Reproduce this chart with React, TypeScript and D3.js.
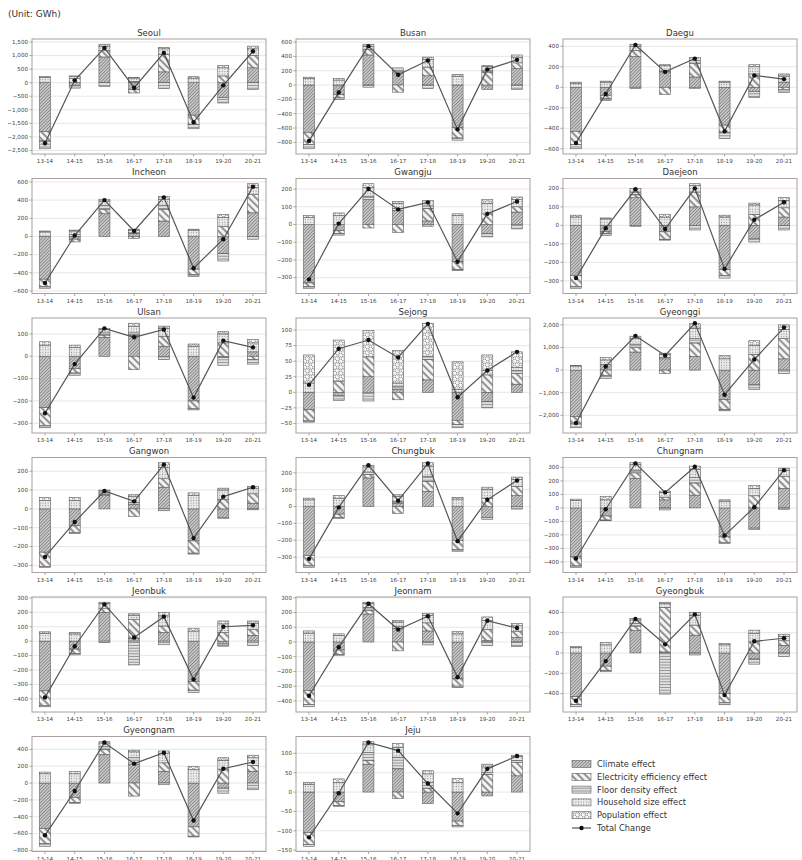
import * as d3 from 'd3';

const regions = [
  'Seoul', 'Busan', 'Daegu', 'Incheon', 'Gwangju', 'Daejeon', 'Ulsan', 'Sejong', 'Gyeonggi',
  'Gangwon', 'Chungbuk', 'Chungnam', 'Jeonbuk', 'Jeonnam', 'Gyeongbuk', 'Gyeongnam', 'Jeju',
];
const periods = ['13-14', '14-15', '15-16', '16-17', '17-18', '18-19', '19-20', '20-21'];
const effectLabels = [
  'Climate effect',
  'Electricity efficiency effect',
  'Floor density effect',
  'Household size effect',
  'Population effect',
];
const keys = ['climate', 'electricity', 'floor', 'household', 'population'];

// one row per region, one value per period (GWh)
const climate = [
  [-1800, -120, 950, -260, 400, -1200, -550, 550],
  [-660, -130, 420, 170, 130, -590, -60, 230],
  [-430, -80, 300, 150, 100, -370, -40, 50],
  [-470, -30, 250, 30, 170, -360, -190, 260],
  [-330, -35, 140, 80, 20, -210, -50, 70],
  [-270, -35, 150, -35, 100, -240, -70, 45],
  [-230, -55, 85, 95, 45, -200, -5, 20],
  [-28, -5, 25, 5, 20, -45, -15, 13],
  [-2050, 250, 800, 500, 600, -1300, -650, 500],
  [-230, -90, 70, 25, 115, -170, -45, 30],
  [-290, -45, 170, 20, 90, -200, -65, 65],
  [-360, -60, 220, 60, 95, -215, -150, 145],
  [-345, -55, 200, 20, 60, -280, -20, 40],
  [-330, -55, 190, 90, 75, -250, 10, 30],
  [-430, -130, 220, 10, 175, -400, -60, 75],
  [-540, -170, 340, 220, 140, -520, -60, 140],
  [-105, -25, 72, 60, -30, -75, -10, 42],
];
const electricity = [
  [-350, 150, 230, -120, 650, -350, 250, 450],
  [-170, -50, 80, -100, 120, -150, 180, 80],
  [-130, -30, 60, -70, 130, -70, 130, -20],
  [-80, -30, 50, -20, 130, -60, 110, 200],
  [-20, -15, -20, -45, 70, -45, 60, 30],
  [-60, -10, 15, -40, 80, -30, 60, 50],
  [-80, -20, 10, -60, 45, -35, 60, -15],
  [-17, 18, 32, -12, 33, -7, 28, 17],
  [-300, -250, 200, -150, 600, -450, 700, 900],
  [-75, -35, 5, -40, 45, -65, 50, 50],
  [-60, -20, 20, -40, 60, -55, 50, 55],
  [-70, -30, 40, 20, 90, -40, 90, 90],
  [-100, -30, 25, 130, 45, -60, 60, 40],
  [-95, -30, 25, -60, 55, -50, 75, 40],
  [-80, -45, 45, 440, 100, -90, 110, 45],
  [-180, -60, 60, -155, 100, -110, 160, 70],
  [-30, -10, 10, -17, 10, -12, 45, 35],
];
const floor = [
  [-290, -80, -136, 50, -220, -150, -200, -250],
  [-60, -20, -30, 30, -50, -30, 20, -60],
  [-40, -20, -10, 10, 30, -60, -60, -30],
  [-20, 20, 40, 10, 40, -20, -80, -30],
  [-10, -10, 20, 10, 15, -5, -20, -25],
  [-10, -10, 15, -5, -25, -15, -20, -25],
  [-10, -10, 10, 10, -15, -5, -35, -20],
  [-3, -8, -14, 5, 5, -5, -10, 5],
  [-200, -130, 150, 50, 200, -50, -200, -150],
  [-5, -5, 10, 10, -10, -5, -5, -5],
  [-10, -5, 15, 10, 30, -10, -10, -15],
  [-10, -5, 20, -15, 40, -10, -10, -10],
  [-10, -10, -10, -165, -25, -15, -15, -30],
  [-15, -5, 20, 15, -20, -10, -25, -30],
  [-20, -10, 25, -405, -20, -20, -50, -35],
  [-30, -10, 30, 80, -20, -10, -60, -80],
  [-5, -2, 20, 30, 15, -3, 5, 5],
];
const household = [
  [200, 80, 160, 120, 200, 170, 300, 250],
  [90, 70, 40, 40, 110, 120, 60, 80],
  [40, 50, 40, 50, 30, 50, 70, 60],
  [50, 40, 50, 30, 70, 70, 100, 80],
  [40, 50, 50, 30, 30, 50, 60, 40],
  [45, 35, 20, 45, 35, 45, 50, 40],
  [50, 40, 15, 30, 35, 45, 40, 40],
  [15, 0, 0, 5, 0, 5, 7, 5],
  [180, 200, 250, 150, 450, 500, 400, 400],
  [45, 45, 10, 30, 60, 70, 50, 30],
  [40, 50, 30, 30, 60, 45, 50, 40],
  [55, 60, 40, 35, 60, 50, 55, 45],
  [55, 50, 35, 30, 70, 70, 60, 45],
  [60, 45, 25, 30, 50, 55, 60, 40],
  [55, 80, 35, 35, 95, 80, 85, 45],
  [110, 110, 45, 70, 110, 160, 110, 90],
  [20, 25, 20, 25, 22, 25, 15, 10],
];
const population = [
  [30, 20, 80, 30, 50, 50, 80, 100],
  [20, 20, 30, 0, 30, 30, 10, 30],
  [10, 10, 20, 10, -10, 10, 20, 20],
  [10, 10, 20, 10, 30, 10, 30, 40],
  [10, 15, 20, 10, -10, 10, 20, 15],
  [10, 5, -5, 15, 10, 10, 10, 15],
  [15, 10, 5, 13, 10, 10, 10, 15],
  [45, 66, 42, 52, 53, 44, 25, 25],
  [20, 100, 100, 50, 200, 150, 200, 200],
  [15, 15, 5, 10, 25, 15, 10, 10],
  [10, 15, 10, 10, 20, 10, 15, 15],
  [10, 25, 15, 10, 25, 10, 20, 15],
  [10, 10, 10, 10, 25, 20, 20, 15],
  [15, 10, 10, 10, 15, 15, 25, 15],
  [10, 25, 15, 15, 30, 15, 30, 20],
  [20, 25, 15, 20, 30, 35, 30, 30],
  [5, 9, 8, 10, 8, 10, 7, 3],
];
const totalChange = [
  [-2235, 86, 1284, -185, 1099, -1457, -99, 1160],
  [-780, -105, 543, 143, 343, -619, 219, 352],
  [-543, -65, 413, 150, 280, -430, 115, 80],
  [-512, 10, 400, 60, 430, -350, -30, 548],
  [-310, 5, 200, 85, 125, -210, 60, 130],
  [-285, -15, 195, -20, 200, -235, 30, 125],
  [-255, -35, 125, 85, 120, -185, 70, 40],
  [12, 70, 84, 56, 110, -8, 35, 65],
  [-2338, 162, 1515, 647, 2073, -1088, 470, 1882],
  [-255, -70, 95, 40, 235, -155, 65, 115],
  [-310, -5, 245, 35, 255, -205, 40, 155],
  [-375, -10, 330, 115, 305, -205, 5, 280],
  [-390, -35, 255, 25, 170, -265, 100, 110],
  [-365, -35, 260, 85, 175, -240, 145, 95],
  [-470, -80, 335, 85, 380, -415, 115, 145],
  [-620, -95, 480, 230, 360, -445, 170, 250],
  [-117, -3, 128, 107, 22, -55, 60, 93],
];
const yTickStep = [500, 200, 200, 200, 100, 100, 100, 25, 1000, 100, 100, 100, 100, 100, 200, 200, 50];

const W = 802;
const H = 860;
const colLeft = [32, 296, 563];
const plotW = 234;
const plotH = 115;
const rowTop = 39;
const rowStep = 139.5;
const barW = 11;
const font = 'DejaVu Sans, sans-serif';
const fills = keys.map((k) => `url(#pat-${k})`);

function Patterns() {
  return (
    <defs>
      <pattern id="pat-climate" width="2.3" height="2.3" patternUnits="userSpaceOnUse" patternTransform="rotate(45)">
        <rect width="2.3" height="2.3" fill="#d0d0d0" />
        <line x1="0.5" y1="0" x2="0.5" y2="2.3" stroke="#767676" strokeWidth="0.8" />
      </pattern>
      <pattern id="pat-electricity" width="5" height="5" patternUnits="userSpaceOnUse" patternTransform="rotate(-45)">
        <rect width="5" height="5" fill="#f4f4f4" />
        <line x1="1" y1="0" x2="1" y2="5" stroke="#6a6a6a" strokeWidth="1.4" />
      </pattern>
      <pattern id="pat-floor" width="4" height="2.8" patternUnits="userSpaceOnUse">
        <rect width="4" height="2.8" fill="#e2e2e2" />
        <line x1="0" y1="1.4" x2="4" y2="1.4" stroke="#7d7d7d" strokeWidth="0.8" />
      </pattern>
      <pattern id="pat-household" width="2.6" height="2.6" patternUnits="userSpaceOnUse">
        <rect width="2.6" height="2.6" fill="#ebebeb" />
        <circle cx="1.3" cy="1.3" r="0.55" fill="#8a8a8a" />
      </pattern>
      <pattern id="pat-population" width="6" height="6" patternUnits="userSpaceOnUse">
        <rect width="6" height="6" fill="#f7f7f7" />
        <circle cx="1.5" cy="1.5" r="1.5" fill="none" stroke="#707070" strokeWidth="0.7" />
        <circle cx="4.5" cy="4.5" r="1.5" fill="none" stroke="#707070" strokeWidth="0.7" />
      </pattern>
    </defs>
  );
}

function Panel({ idx }: { idx: number }) {
  const x0 = colLeft[idx % 3];
  const y0 = rowTop + Math.floor(idx / 3) * rowStep;
  const rows = periods.map((p, i) => ({
    period: p,
    climate: climate[idx][i],
    electricity: electricity[idx][i],
    floor: floor[idx][i],
    household: household[idx][i],
    population: population[idx][i],
  }));
  const series = d3.stack<any>().keys(keys).offset(d3.stackOffsetDiverging)(rows);
  const lo = Math.min(d3.min(series, (s) => d3.min(s, (d) => d[0]))!, d3.min(totalChange[idx])!);
  const hi = Math.max(d3.max(series, (s) => d3.max(s, (d) => d[1]))!, d3.max(totalChange[idx])!);
  const pad = (hi - lo) * 0.05;
  const y = d3.scaleLinear().domain([lo - pad, hi + pad]).range([y0 + plotH, y0]);
  const x = d3.scalePoint<string>().domain(periods).range([x0 + 13, x0 + plotW - 13]);
  const step = yTickStep[idx];
  const ticks = d3.range(Math.ceil((lo - pad) / step) * step, hi + pad, step);
  const fmt = d3.format(',');
  const line = d3
    .line<number>()
    .x((_, i) => x(periods[i])!)
    .y((d) => y(d));

  return (
    <g>
      <text x={x0 + plotW / 2} y={y0 - 3.5} textAnchor="middle" fontSize={8.5} fill="#333" fontFamily={font}>
        {regions[idx]}
      </text>
      {ticks.map((t) => (
        <g key={t}>
          <line x1={x0} x2={x0 + plotW} y1={y(t)} y2={y(t)} stroke="#e2dada" strokeWidth={0.7} />
          <line x1={x0 - 2.5} x2={x0} y1={y(t)} y2={y(t)} stroke="#666" strokeWidth={0.6} />
          <text x={x0 - 4} y={y(t)} dy="0.33em" textAnchor="end" fontSize={5.6} fill="#444" fontFamily={font}>
            {fmt(t)}
          </text>
        </g>
      ))}
      {periods.map((p) => (
        <g key={p}>
          <line x1={x(p)} x2={x(p)} y1={y0 + plotH} y2={y0 + plotH + 2.5} stroke="#666" strokeWidth={0.6} />
          <text x={x(p)} y={y0 + plotH + 9} textAnchor="middle" fontSize={5.6} fill="#444" fontFamily={font}>
            {p}
          </text>
        </g>
      ))}
      {series.map((s, k) => (
        <g key={keys[k]}>
          {s.map((d, i) => {
            const top = y(d[1]);
            const h = y(d[0]) - top;
            if (Math.abs(h) < 0.01) return null;
            return (
              <rect
                key={i}
                x={x(periods[i])! - barW / 2}
                y={top}
                width={barW}
                height={h}
                fill={fills[k]}
                stroke="#5e5e5e"
                strokeWidth={0.6}
              />
            );
          })}
        </g>
      ))}
      <path d={line(totalChange[idx])!} fill="none" stroke="#555" strokeWidth={1.2} />
      {totalChange[idx].map((v, i) => (
        <circle key={i} cx={x(periods[i])} cy={y(v)} r={2.2} fill="#111" />
      ))}
      <rect x={x0} y={y0} width={plotW} height={plotH} fill="none" stroke="#aaa0a0" strokeWidth={1} />
    </g>
  );
}

function Legend() {
  const lx = 572;
  const ly = 764;
  const gap = 12.8;
  return (
    <g fontFamily={font} fontSize={8.3} fill="#333">
      {effectLabels.map((label, i) => (
        <g key={label}>
          <rect x={lx} y={ly + i * gap - 3.5} width={19} height={7} fill={fills[i]} stroke="#5e5e5e" strokeWidth={0.6} />
          <text x={lx + 25} y={ly + i * gap} dy="0.35em">
            {label}
          </text>
        </g>
      ))}
      <line x1={lx} x2={lx + 19} y1={ly + 5 * gap} y2={ly + 5 * gap} stroke="#555" strokeWidth={1.2} />
      <circle cx={lx + 9.5} cy={ly + 5 * gap} r={2.2} fill="#111" />
      <text x={lx + 25} y={ly + 5 * gap} dy="0.35em">
        Total Change
      </text>
    </g>
  );
}

export default function App() {
  return (
    <svg
      width={W}
      height={H}
      viewBox={`0 0 ${W} ${H}`}
      style={{ position: 'absolute', left: 0, top: 0, background: '#fff' }}
    >
      <Patterns />
      <text x={8} y={17} fontSize={9} fill="#333" fontFamily={font}>
        (Unit: GWh)
      </text>
      {regions.map((r, i) => (
        <Panel key={r} idx={i} />
      ))}
      <Legend />
    </svg>
  );
}
